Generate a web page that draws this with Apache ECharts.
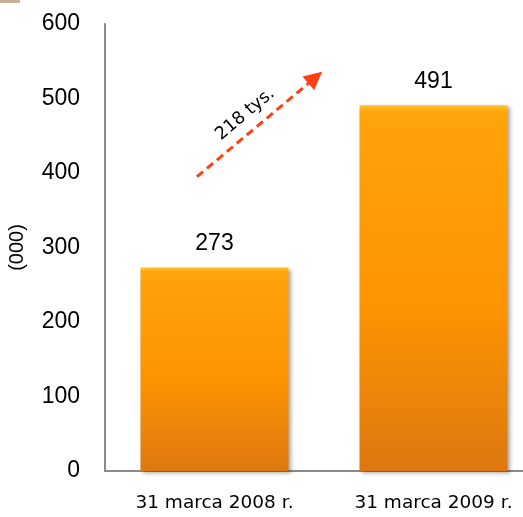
<!DOCTYPE html>
<html>
<head>
<meta charset="utf-8">
<script src="https://cdn.jsdelivr.net/npm/echarts@6/dist/echarts.min.js"></script>
<style>
html,body{margin:0;padding:0;background:#fff;}
#chart{width:523px;height:517px;}
</style>
</head>
<body>
<div id="chart"></div>
<script>
// ---- data ----
const categories = ['31 marca 2008 r.', '31 marca 2009 r.'];
const values = [273, 491];
const yTicks = [0, 100, 200, 300, 400, 500, 600];
const axisName = '(000)';
const changeUnit = ' tys.';
// arrow annotation endpoints in (category-position, value) space
const arrowFrom = [0.42, 395];
const arrowTo = [0.96, 528];

const chart = echarts.init(document.getElementById('chart'), null, {renderer: 'canvas'});

const barColor = new echarts.graphic.LinearGradient(0, 0, 0, 1, [
  {offset: 0, color: '#FFC42A'},
  {offset: 0.02, color: '#FFA40A'},
  {offset: 0.55, color: '#FD9402'},
  {offset: 1, color: '#DC780F'}
]);

const option = {
  animation: false,
  backgroundColor: '#ffffff',
  graphic: [{
    type: 'rect', left: 0, top: 0, shape: {width: 20, height: 3},
    style: {fill: '#C6B192'}
  }],
  grid: {left: 105, top: 24, bottom: 46, width: 438, containLabel: false, outerBoundsMode: 'none'},
  xAxis: [{
    type: 'category',
    data: categories,
    axisLine: {show: true, lineStyle: {color: '#8a8a8a', width: 2}},
    axisTick: {show: false},
    axisLabel: {
      color: '#000', fontFamily: 'DejaVu Sans', fontSize: 18.5, margin: 23,
      interval: 0
    },
    splitLine: {show: false}
  }, {
    type: 'value', min: 0, max: 2, show: false, position: 'top'
  }],
  yAxis: {
    type: 'value',
    min: yTicks[0],
    max: yTicks[yTicks.length - 1],
    interval: yTicks[1] - yTicks[0],
    name: axisName,
    nameLocation: 'middle',
    nameGap: 78,
    nameRotate: 90,
    nameTextStyle: {color: '#000', fontFamily: 'Liberation Sans', fontSize: 20},
    axisLine: {show: true, lineStyle: {color: '#8a8a8a', width: 2}},
    axisTick: {show: false},
    splitLine: {show: false},
    axisLabel: {color: '#000', fontFamily: 'Liberation Sans', fontSize: 23, margin: 25}
  },
  series: [{
    type: 'bar',
    data: values,
    barWidth: 148,
    itemStyle: {
      color: barColor,
      shadowColor: 'rgba(0,0,0,0.35)',
      shadowBlur: 4,
      shadowOffsetX: 2,
      shadowOffsetY: 2
    },
    label: {
      show: true, position: 'top', distance: 12,
      color: '#000', fontFamily: 'Liberation Sans', fontSize: 23
    }
  }, {
    type: 'line',
    xAxisIndex: 1,
    data: [],
    silent: true,
    markLine: {
      silent: true,
      symbol: ['none', 'triangle'],
      symbolSize: 18,
      lineStyle: {color: '#FF4012', width: 3, type: [8, 5]},
      itemStyle: {color: '#FF4012'},
      label: {
        show: true,
        position: 'insideMiddleTop',
        distance: 8,
        formatter: (values[1] - values[0]) + changeUnit,
        color: '#000',
        fontFamily: 'DejaVu Sans',
        fontSize: 17.5
      },
      data: [[{coord: arrowFrom}, {coord: arrowTo}]]
    }
  }]
};
chart.setOption(option);
</script>
</body>
</html>
